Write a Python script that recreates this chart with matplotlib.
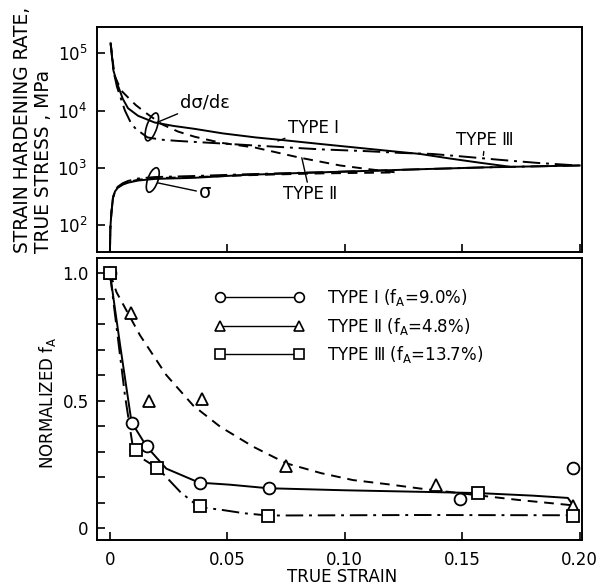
import matplotlib
matplotlib.use("Agg")
import matplotlib.pyplot as plt
from matplotlib.lines import Line2D
from matplotlib.patches import Ellipse
from matplotlib.ticker import MultipleLocator, FixedLocator, NullLocator

# ---- top panel: strain hardening rate and true stress (MPa)
hr1_x = [0.0003, 0.0015, 0.0034, 0.0055, 0.0077, 0.012, 0.019, 0.027, 0.036, 0.048, 0.062, 0.072, 0.09, 0.11, 0.123, 0.132, 0.145, 0.158, 0.170]
hr1_y = [1.5e5, 5.0e4, 2.75e4, 1.6e4, 1.1e4, 8100, 6200, 5400, 4800, 4000, 3400, 3100, 2600, 2150, 1900, 1750, 1450, 1220, 1050]

hr2_x = [0.0003, 0.002, 0.005, 0.0077, 0.011, 0.015, 0.022, 0.029, 0.036, 0.047, 0.062, 0.081, 0.098, 0.110, 0.122]
hr2_y = [1.5e5, 4.0e4, 2.2e4, 1.7e4, 1.25e4, 9300, 5800, 4300, 3500, 2750, 2250, 1500, 1100, 950, 830]

hr3_x = [0.0003, 0.0015, 0.003, 0.0064, 0.009, 0.011, 0.016, 0.022, 0.029, 0.045, 0.062, 0.09, 0.110, 0.124, 0.137, 0.150, 0.166, 0.182, 0.199]
hr3_y = [1.5e5, 5.0e4, 2.6e4, 1.0e4, 6000, 4800, 3400, 3100, 2950, 2700, 2450, 2100, 1950, 1820, 1750, 1580, 1380, 1220, 1100]

st_x = [0.0, 0.0002, 0.0006, 0.0013, 0.0022, 0.0034, 0.0055, 0.0077, 0.012, 0.019, 0.036, 0.057, 0.072, 0.10, 0.13, 0.16, 0.20]
st1_y = [34, 90, 160, 300, 390, 450, 510, 550, 600, 640, 670, 750, 790, 860, 940, 1020, 1100]
st3_y = [34, 90, 160, 300, 400, 470, 540, 590, 650, 690, 720, 770, 800, 860, 940, 1020, 1100]
st2_x = [0.0, 0.0002, 0.0006, 0.0013, 0.0022, 0.0034, 0.0055, 0.0077, 0.012, 0.019, 0.036, 0.057, 0.072, 0.09, 0.105, 0.121]
st2_y = [34, 90, 160, 300, 390, 455, 520, 565, 620, 660, 690, 740, 770, 800, 815, 830]

# ---- bottom panel: normalized fA
c1_x = [0.0, 0.0043, 0.0092, 0.0156, 0.024, 0.038, 0.051, 0.0674, 0.10, 0.132, 0.157, 0.180, 0.195, 0.1975]
c1_y = [1.0, 0.72, 0.415, 0.32, 0.233, 0.178, 0.17, 0.156, 0.148, 0.142, 0.137, 0.127, 0.118, 0.085]
c2_x = [0.0, 0.0028, 0.0128, 0.024, 0.0355, 0.047, 0.061, 0.075, 0.09, 0.1035, 0.118, 0.132, 0.156, 0.174, 0.196]
c2_y = [1.0, 0.925, 0.756, 0.60, 0.48, 0.397, 0.319, 0.254, 0.215, 0.188, 0.172, 0.155, 0.129, 0.11, 0.09]
c3_x = [0.0, 0.0064, 0.0099, 0.0142, 0.0206, 0.030, 0.038, 0.047, 0.057, 0.0674, 0.10, 0.132, 0.197]
c3_y = [1.0, 0.52, 0.31, 0.27, 0.233, 0.141, 0.082, 0.072, 0.058, 0.049, 0.05, 0.051, 0.05]

p1_x = [0.0, 0.0092, 0.0156, 0.0383, 0.0677, 0.149, 0.197]
p1_y = [1.0, 0.41, 0.32, 0.178, 0.156, 0.113, 0.235]
p2_x = [0.0, 0.0089, 0.0167, 0.0394, 0.075, 0.139, 0.197]
p2_y = [1.0, 0.845, 0.50, 0.505, 0.243, 0.169, 0.086]
p3_x = [0.0, 0.0111, 0.0201, 0.0383, 0.0674, 0.1567, 0.197]
p3_y = [1.0, 0.305, 0.235, 0.085, 0.047, 0.136, 0.047]

labels = ["TYPE \u2160 (f$_\\mathrm{A}$=9.0%)",
          "TYPE \u2161 (f$_\\mathrm{A}$=4.8%)",
          "TYPE \u2162 (f$_\\mathrm{A}$=13.7%)"]
xticks = [0, 0.05, 0.10, 0.15, 0.20]
xticklabels = ["0", "0.05", "0.10", "0.15", "0.20"]

plt.rcParams['font.family'] = ['DejaVu Sans']
plt.rcParams['font.size'] = 12
plt.rcParams['mathtext.fontset'] = 'dejavusans'

W, H = 603, 588
fig = plt.figure(figsize=(W / 100, H / 100), dpi=100)

def box(l, t, r, b):
    return [l / W, 1 - b / H, (r - l) / W, (b - t) / H]

ax1 = fig.add_axes(box(97, 27, 582, 252))
ax2 = fig.add_axes(box(97, 258, 582, 540))

DASH = (0, (5, 3.5))
DDOT = (0, (9, 3, 1.5, 3))
lw = 1.4

# top panel
ax1.semilogy(hr1_x, hr1_y, color='k', lw=lw, ls='-')
ax1.semilogy(hr2_x, hr2_y, color='k', lw=lw, ls=DASH)
ax1.semilogy(hr3_x, hr3_y, color='k', lw=lw, ls=DDOT)
ax1.semilogy(st_x, st1_y, color='k', lw=lw, ls='-')
ax1.semilogy(st2_x, st2_y, color='k', lw=lw, ls=DASH)
ax1.semilogy(st_x, st3_y, color='k', lw=lw, ls=DDOT)

ax1.set_xlim(-0.0055, 0.201)
ax1.set_ylim(10 ** 1.53, 10 ** 5.46)
ax1.yaxis.set_major_locator(FixedLocator([1e2, 1e3, 1e4, 1e5]))
ax1.yaxis.set_minor_locator(NullLocator())
ax1.set_yticklabels(["10$^2$", "10$^3$", "10$^4$", "10$^5$"])
ax1.set_xticks(xticks)
ax1.set_xticklabels([])
ax1.tick_params(direction='in', length=6, width=1.2, labelsize=12, pad=7)

# loops round the curve groups
ax1.add_patch(Ellipse((0.113, 0.556), 0.022, 0.125, angle=-8, transform=ax1.transAxes,
                      fill=False, lw=1.2, color='k'))
ax1.add_patch(Ellipse((0.115, 0.32), 0.022, 0.11, angle=-8, transform=ax1.transAxes,
                      fill=False, lw=1.2, color='k'))
arr = dict(arrowstyle='-', color='k', lw=1.0, shrinkA=0, shrinkB=0)
ax1.annotate("d\u03c3/d\u03b5", xy=(0.020, 6200), xytext=(0.030, 1.4e4),
             ha='left', va='center', fontsize=13, arrowprops=arr)
ax1.annotate("\u03c3", xy=(0.0204, 546), xytext=(0.038, 365),
             ha='left', va='center', fontsize=14, arrowprops=arr)
ax1.annotate("TYPE \u2160", xy=(0.0715, 2950), xytext=(0.0757, 5000),
             ha='left', va='center', fontsize=12, arrowprops=arr)
ax1.annotate("TYPE \u2161", xy=(0.0817, 1500), xytext=(0.0736, 350),
             ha='left', va='center', fontsize=12, arrowprops=arr)
ax1.annotate("TYPE \u2162", xy=(0.159, 1650), xytext=(0.1475, 3100),
             ha='left', va='center', fontsize=12, arrowprops=arr)

# bottom panel
ax2.plot(c1_x, c1_y, color='k', lw=lw, ls='-')
ax2.plot(c2_x, c2_y, color='k', lw=lw, ls=DASH)
ax2.plot(c3_x, c3_y, color='k', lw=lw, ls=DDOT)
mk = dict(ls='none', mfc='w', mec='k', mew=1.3, ms=8.5, clip_on=False, zorder=3)
ax2.plot(p1_x, p1_y, marker='o', **mk)
ax2.plot(p2_x, p2_y, marker='^', **mk)
ax2.plot(p3_x, p3_y, marker='s', **mk)

ax2.set_xlim(-0.0055, 0.201)
ax2.set_ylim(-0.047, 1.059)
ax2.set_xticks(xticks)
ax2.set_xticklabels(xticklabels)
ax2.yaxis.set_major_locator(FixedLocator([0, 0.5, 1.0]))
ax2.set_yticklabels(["0", "0.5", "1.0"])
ax2.yaxis.set_minor_locator(MultipleLocator(0.1))
ax2.tick_params(which='both', direction='in', length=6, width=1.2, labelsize=12, pad=6)
ax2.tick_params(axis='x', pad=8)

handles = [Line2D([0], [0], color='k', lw=1.0, marker=m, mfc='w', mec='k', mew=1.2, ms=7)
           for m in ['o', '^', 's']]
ax2.legend(handles, labels, numpoints=2, frameon=False, fontsize=12,
           handlelength=5.3, handletextpad=1.4, labelspacing=0.45,
           loc='upper left', bbox_to_anchor=(0.213, 0.95))

for a in (ax1, ax2):
    for s in a.spines.values():
        s.set_linewidth(1.4)

ax2.set_xlabel("TRUE STRAIN", fontsize=12, va='center')
ax2.xaxis.set_label_coords(0.505, -0.131)
ax2.set_ylabel("NORMALIZED f$_\\mathrm{A}$", fontsize=12, va='center')
ax2.yaxis.set_label_coords(-0.103, 0.486)
fig.text(33 / W, 1 - 253 / H, "STRAIN HARDENING RATE,\nTRUE STRESS , MPa",
         rotation=90, ha='center', va='bottom', multialignment='left',
         fontsize=13.4, linespacing=1.1)

fig.savefig("out.png", dpi=100)
